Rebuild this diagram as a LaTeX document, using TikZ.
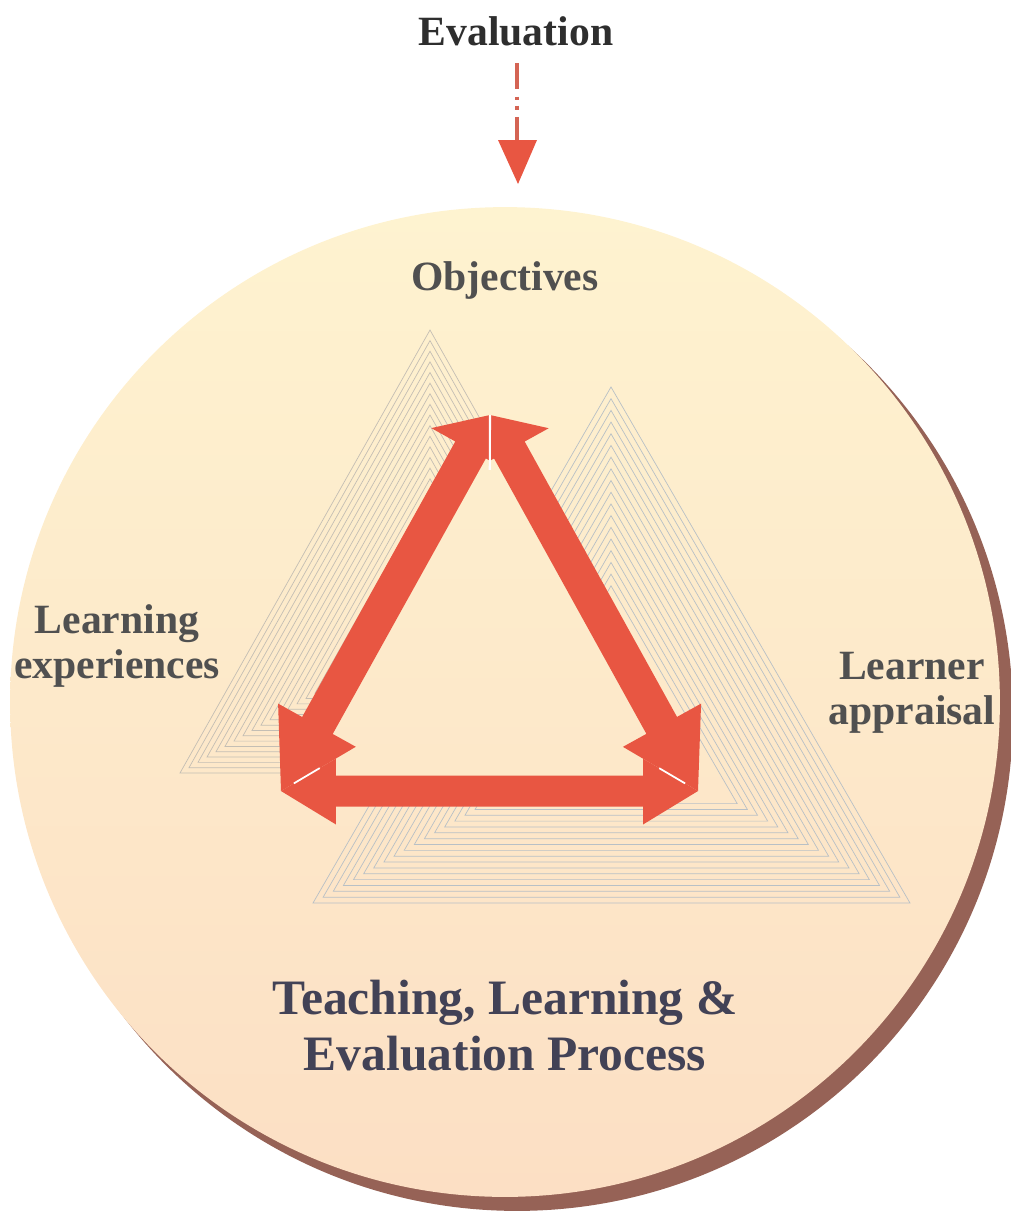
\documentclass[tikz,border=0pt]{standalone}
\usepackage{fontspec}
\setmainfont{Liberation Serif}
\usepackage{tikz}
\usetikzlibrary{calc}
\usetikzlibrary{arrows.meta}

\definecolor{arrowred}{RGB}{232,86,66}
\definecolor{dashred}{RGB}{212,100,84}
\definecolor{tagtextgray}{RGB}{80,80,80}
\definecolor{processslate}{RGB}{66,66,86}
\definecolor{discbrown}{RGB}{150,98,86}
\definecolor{disctop}{RGB}{254,243,208}
\definecolor{discbottom}{RGB}{252,223,196}
\definecolor{hatchA}{RGB}{196,190,180}
\definecolor{hatchB}{RGB}{184,192,198}

% fat double arrow between two corners, cut along the corner bisectors
\newcommand{\fatarrow}[7]{%
  \begin{scope}
    \clip (ctr) -- ($(ctr)!2.5!(#1)$) -- ($(ctr)!2.5!(#2)$) -- cycle;
    \coordinate (pa) at ($(#1)!#3!(#2)$);
    \coordinate (pb) at ($(#2)!#5!(#1)$);
    \fill[arrowred] (#1) -- ($(pa)!#4!90:(#2)$) -- ($(pa)!#7!90:(#2)$)
      -- ($(pb)!#7!-90:(#1)$) -- ($(pb)!#6!-90:(#1)$) -- (#2)
      -- ($(pb)!#6!90:(#1)$) -- ($(pb)!#7!90:(#1)$)
      -- ($(pa)!#7!-90:(#2)$) -- ($(pa)!#4!-90:(#2)$) -- cycle;
  \end{scope}}

\begin{document}
\begin{tikzpicture}[x=0.02cm,y=-0.02cm,
    tagtext/.style={font=\fontsize{23.7}{25.5}\selectfont\bfseries, text=tagtextgray, align=center, inner sep=0pt},
    processtext/.style={font=\fontsize{28.2}{31.8}\selectfont\bfseries, text=processslate, align=center, inner sep=0pt},
    hatch/.style={line width=0.4pt},
    discshade/.style={top color=disctop, bottom color=discbottom}]
  \useasboundingbox (0,0) rectangle (1011,1218);

  % disc and its shadow
  \fill[discbrown] (517,715) circle (9.92cm);
  \shade[discshade] (505,702) circle (9.9cm);

  % nested hatch triangles
  \coordinate (a2) at (611,387); \coordinate (b2) at (313,903); \coordinate (c2) at (910,903);
  \coordinate (g2) at (611,731);
  \foreach \k [evaluate=\k as \sc using 1-0.034*\k] in {0,...,17}
    \draw[hatch, hatchB] ($(g2)!\sc!(a2)$) -- ($(g2)!\sc!(b2)$) -- ($(g2)!\sc!(c2)$) -- cycle;
  \coordinate (a1) at (430,330); \coordinate (b1) at (180,773); \coordinate (c1) at (680,773);
  \coordinate (g1) at (430,625.3);
  \foreach \k [evaluate=\k as \sc using 1-0.036*\k] in {0,...,18}
    \draw[hatch, hatchA] ($(g1)!\sc!(a1)$) -- ($(g1)!\sc!(b1)$) -- ($(g1)!\sc!(c1)$) -- cycle;

  % red triangle of arrows
  \coordinate (T) at (490,415);
  \coordinate (L) at (281,791);
  \coordinate (R) at (698,791);
  \coordinate (ctr) at (489,668);
  % plain inside of the triangle
  \begin{scope}
    \clip ($(ctr)!0.9!(T)$) -- ($(ctr)!0.9!(L)$) -- ($(ctr)!0.9!(R)$) -- cycle;
    \shade[discshade] (505,702) circle (9.9cm);
  \end{scope}
  \fatarrow{T}{L}{0.8cm}{0.9cm}{1.5cm}{0.9cm}{0.35cm}
  \fatarrow{T}{R}{0.8cm}{0.9cm}{1.5cm}{0.9cm}{0.35cm}
  \fatarrow{L}{R}{1.1cm}{0.67cm}{1.1cm}{0.67cm}{0.31cm}
  \draw[white, line width=1.2pt] (T) -- ($(T)!1.1cm!(ctr)$);
  \draw[white, line width=1pt] ($(L)!0.3cm!(ctr)$) -- ($(L)!0.9cm!(ctr)$);
  \draw[white, line width=1pt] ($(R)!0.3cm!(ctr)$) -- ($(R)!0.9cm!(ctr)$);

  % labels
  \node[tagtext, text=black!82] (evaluation) at (516,31) {Evaluation};
  \node[tagtext] (objectives) at (505,280) {Objectives};
  \node[tagtext] (experiences) at (117,646) {Learning\\experiences};
  \node[tagtext] (appraisal) at (912,693) {Learner\\appraisal};
  \node[processtext] (process) at (505,1026) {Teaching, Learning \&\\Evaluation Process};

  % evaluation arrow
  \coordinate (evalstart) at (517,63);
  \coordinate (evalhead) at (517,140);
  \coordinate (evaltip) at (518,184);
  \draw[dashred, line width=2.6pt, dash pattern=on 14.7pt off 4.5pt on 1.7pt off 3.4pt on 2.3pt off 4pt on 40pt] (evalstart) -- (evalhead);
  \fill[arrowred] ($(evalhead)+(-19,0)$) -- ($(evalhead)+(20,0)$) -- (evaltip) -- cycle;
\end{tikzpicture}
\end{document}
